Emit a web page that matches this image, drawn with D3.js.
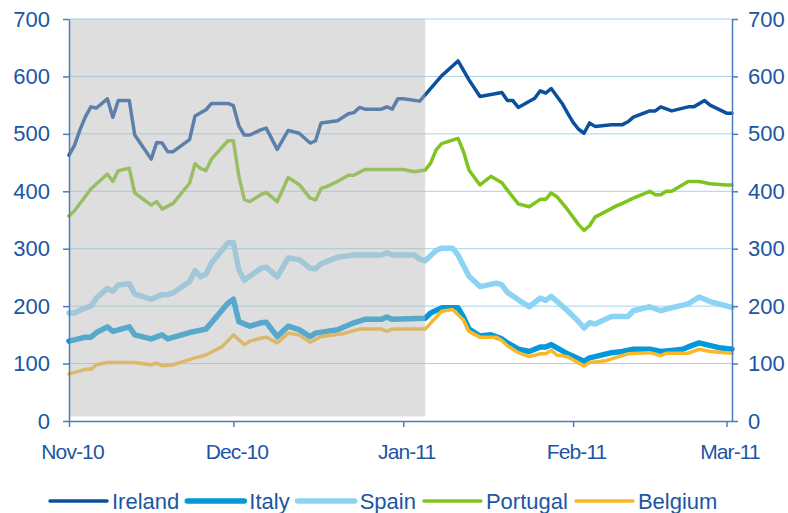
<!DOCTYPE html>
<html>
<head>
<meta charset="utf-8">
<script src="https://cdn.jsdelivr.net/npm/d3@7"></script>
<style>
  body { margin: 0; background: #fff; }
  svg { display: block; font-family: "Liberation Sans", Arial, sans-serif; }
</style>
</head>
<body>
<div id="chart"></div>
<script>
// spreads, bp (date, value)
const ireland = [
  ["2010-11-01",463],["2010-11-02",480],["2010-11-03",507],["2010-11-04",530],["2010-11-05",547],
  ["2010-11-06",545],["2010-11-08",561],["2010-11-09",529],["2010-11-10",558],["2010-11-12",558],
  ["2010-11-13",498],["2010-11-16",456],["2010-11-17",485],["2010-11-18",484],["2010-11-19",469],
  ["2010-11-20",469],["2010-11-23",490],["2010-11-24",531],["2010-11-26",542],["2010-11-27",553],
  ["2010-11-30",553],["2010-12-01",549],["2010-12-02",514],["2010-12-03",498],["2010-12-04",498],
  ["2010-12-06",507],["2010-12-07",510],["2010-12-09",473],["2010-12-11",506],["2010-12-13",501],
  ["2010-12-15",484],["2010-12-16",488],["2010-12-17",519],["2010-12-20",523],["2010-12-22",535],
  ["2010-12-23",537],["2010-12-24",546],["2010-12-25",543],["2010-12-28",543],["2010-12-29",547],
  ["2010-12-30",543],["2010-12-31",561],["2011-01-01",561],["2011-01-04",557],["2011-01-05",568],
  ["2011-01-08",601],["2011-01-11",627],["2011-01-13",594],["2011-01-15",565],["2011-01-19",572],
  ["2011-01-20",558],["2011-01-21",558],["2011-01-22",546],["2011-01-25",562],["2011-01-26",575],
  ["2011-01-27",571],["2011-01-28",579],["2011-01-30",553],["2011-01-31",536],["2011-02-01",520],
  ["2011-02-02",508],["2011-02-03",501],["2011-02-04",519],["2011-02-05",513],["2011-02-08",516],
  ["2011-02-10",516],["2011-02-11",521],["2011-02-12",529],["2011-02-15",540],["2011-02-16",540],
  ["2011-02-17",547],["2011-02-19",540],["2011-02-22",547],["2011-02-23",547],["2011-02-25",558],
  ["2011-02-26",550],["2011-03-01",536],["2011-03-02",536]
]

const italy = [
  ["2010-11-01",139],["2010-11-04",146],["2010-11-05",146],["2010-11-06",154],["2010-11-08",164],
  ["2010-11-09",156],["2010-11-12",164],["2010-11-13",150],["2010-11-16",143],["2010-11-18",150],
  ["2010-11-19",143],["2010-11-23",154],["2010-11-26",160],["2010-11-30",205],["2010-12-01",212],
  ["2010-12-02",173],["2010-12-04",165],["2010-12-06",171],["2010-12-07",172],["2010-12-09",147],
  ["2010-12-11",165],["2010-12-13",159],["2010-12-15",147],["2010-12-16",153],["2010-12-20",159],
  ["2010-12-23",171],["2010-12-25",177],["2010-12-28",177],["2010-12-29",181],["2010-12-30",177],
  ["2011-01-05",179],["2011-01-06",188],["2011-01-08",197],["2011-01-11",197],["2011-01-12",181],
  ["2011-01-13",160],["2011-01-15",148],["2011-01-17",150],["2011-01-19",143],["2011-01-20",136],
  ["2011-01-22",125],["2011-01-24",121],["2011-01-26",129],["2011-01-27",129],["2011-01-28",133],
  ["2011-01-31",117],["2011-02-03",104],["2011-02-04",110],["2011-02-05",112],["2011-02-08",119],
  ["2011-02-10",121],["2011-02-12",125],["2011-02-15",125],["2011-02-17",121],["2011-02-19",123],
  ["2011-02-21",125],["2011-02-22",129],["2011-02-24",136],["2011-02-28",127],["2011-03-02",125]
]

const spain = [
  ["2010-11-01",188],["2010-11-02",188],["2010-11-04",197],["2010-11-05",200],["2010-11-06",214],
  ["2010-11-08",231],["2010-11-09",226],["2010-11-10",237],["2010-11-12",239],["2010-11-13",221],
  ["2010-11-16",212],["2010-11-18",220],["2010-11-19",220],["2010-11-20",223],["2010-11-23",243],
  ["2010-11-24",262],["2010-11-25",251],["2010-11-26",256],["2010-11-27",275],["2010-11-30",310],
  ["2010-12-01",311],["2010-12-02",263],["2010-12-03",245],["2010-12-06",266],["2010-12-07",268],
  ["2010-12-09",251],["2010-12-11",284],["2010-12-13",281],["2010-12-15",266],["2010-12-16",265],
  ["2010-12-17",274],["2010-12-20",285],["2010-12-23",289],["2010-12-28",289],["2010-12-29",293],
  ["2010-12-30",289],["2011-01-03",289],["2011-01-04",282],["2011-01-05",279],["2011-01-07",297],
  ["2011-01-08",301],["2011-01-10",301],["2011-01-11",289],["2011-01-13",252],["2011-01-15",234],
  ["2011-01-18",240],["2011-01-19",237],["2011-01-20",224],["2011-01-22",211],["2011-01-24",199],
  ["2011-01-26",214],["2011-01-27",210],["2011-01-28",217],["2011-01-31",192],["2011-02-02",173],
  ["2011-02-03",162],["2011-02-04",171],["2011-02-05",169],["2011-02-08",182],["2011-02-11",182],
  ["2011-02-12",192],["2011-02-15",199],["2011-02-17",192],["2011-02-18",195],["2011-02-22",204],
  ["2011-02-24",216],["2011-02-26",208],["2011-03-02",198]
]

const portugal = [
  ["2010-11-01",357],["2010-11-02",366],["2010-11-05",404],["2010-11-08",430],["2010-11-09",417],
  ["2010-11-10",436],["2010-11-12",440],["2010-11-13",397],["2010-11-16",376],["2010-11-17",382],
  ["2010-11-18",369],["2010-11-20",379],["2010-11-23",414],["2010-11-24",448],["2010-11-25",440],
  ["2010-11-26",436],["2010-11-27",456],["2010-11-30",488],["2010-12-01",488],["2010-12-02",426],
  ["2010-12-03",386],["2010-12-04",382],["2010-12-06",394],["2010-12-07",398],["2010-12-09",382],
  ["2010-12-11",424],["2010-12-13",412],["2010-12-15",388],["2010-12-16",385],["2010-12-17",405],
  ["2010-12-18",408],["2010-12-20",417],["2010-12-22",428],["2010-12-23",428],["2010-12-25",438],
  ["2011-01-01",438],["2011-01-03",434],["2011-01-05",437],["2011-01-06",449],["2011-01-07",472],
  ["2011-01-08",483],["2011-01-11",492],["2011-01-12",469],["2011-01-13",437],["2011-01-15",411],
  ["2011-01-17",426],["2011-01-19",415],["2011-01-20",402],["2011-01-22",378],["2011-01-24",373],
  ["2011-01-26",386],["2011-01-27",386],["2011-01-28",397],["2011-01-29",391],["2011-01-31",368],
  ["2011-02-01",355],["2011-02-02",342],["2011-02-03",332],["2011-02-04",340],["2011-02-05",355],
  ["2011-02-07",365],["2011-02-09",375],["2011-02-10",379],["2011-02-12",388],["2011-02-15",400],
  ["2011-02-16",394],["2011-02-17",394],["2011-02-18",400],["2011-02-19",400],["2011-02-22",417],
  ["2011-02-24",417],["2011-02-26",413],["2011-03-01",411],["2011-03-02",411]
]

const belgium = [
  ["2010-11-01",82],["2010-11-04",90],["2010-11-05",90],["2010-11-06",98],["2010-11-08",102],
  ["2010-11-13",102],["2010-11-16",98],["2010-11-17",101],["2010-11-18",96],["2010-11-20",98],
  ["2010-11-23",107],["2010-11-24",110],["2010-11-26",115],["2010-11-29",130],["2010-12-01",150],
  ["2010-12-03",133],["2010-12-04",139],["2010-12-06",144],["2010-12-07",146],["2010-12-09",136],
  ["2010-12-11",153],["2010-12-13",150],["2010-12-15",137],["2010-12-17",147],["2010-12-21",152],
  ["2010-12-24",160],["2010-12-28",160],["2010-12-29",156],["2010-12-30",160],["2011-01-05",160],
  ["2011-01-08",191],["2011-01-10",194],["2011-01-12",176],["2011-01-13",156],["2011-01-15",146],
  ["2011-01-18",146],["2011-01-19",140],["2011-01-20",131],["2011-01-22",119],["2011-01-24",112],
  ["2011-01-26",117],["2011-01-27",117],["2011-01-28",123],["2011-01-29",115],["2011-01-31",112],
  ["2011-02-03",96],["2011-02-04",102],["2011-02-07",105],["2011-02-11",117],["2011-02-15",119],
  ["2011-02-17",114],["2011-02-18",118],["2011-02-22",118],["2011-02-24",125],["2011-02-26",121],
  ["2011-03-02",118]
]

const seriesNames = ["Ireland", "Italy", "Spain", "Portugal", "Belgium"]
const seriesData = [ireland, italy, spain, portugal, belgium]
const seriesColors = ["#0b4f9f", "#0099dc", "#8dd3f4", "#7fc31d", "#fbb826"]
const seriesWidths = [3.5, 5.5, 5.5, 3.5, 3.5]

const yTicks = [0, 100, 200, 300, 400, 500, 600, 700]
const xDomain = ["2010-11-01", "2011-03-02"]
const shadedPeriod = ["2010-11-01", "2011-01-05"]

const width = 788, height = 513
const margin = {top: 19, right: 56, bottom: 92, left: 69}
const parse = d3.timeParse("%Y-%m-%d")
const axisBlue = "#4a7dbd"
const textBlue = "#1b56a4"

const svg = d3.select("#chart").append("svg")
    .attr("width", width)
    .attr("height", height)

const x = d3.scaleTime()
    .domain(xDomain.map(parse))
    .range([margin.left, width - margin.right])

const y = d3.scaleLinear()
    .domain([0, 700])
    .range([height - margin.bottom, margin.top])

// grid
svg.append("g")
    .selectAll("line")
    .data(yTicks.slice(1))
    .enter().append("line")
    .attr("x1", margin.left).attr("x2", width - margin.right)
    .attr("y1", d => y(d)).attr("y2", d => y(d))
    .attr("stroke", "#a6d2ea")
    .attr("stroke-width", 1)

// lines
const line = d3.line()
    .x(d => x(parse(d[0])))
    .y(d => y(d[1]))

seriesData.forEach((s, i) => {
    svg.append("path")
        .datum(s)
        .attr("d", line)
        .attr("fill", "none")
        .attr("stroke", seriesColors[i])
        .attr("stroke-width", seriesWidths[i])
        .attr("stroke-linejoin", "round")
        .attr("stroke-linecap", "round")
})

// shaded period, laid over the lines so they look faded
svg.append("rect")
    .attr("x", x(parse(shadedPeriod[0])) + 1)
    .attr("y", y(700))
    .attr("width", x(parse(shadedPeriod[1])) - x(parse(shadedPeriod[0])) - 1)
    .attr("height", y(8) - y(700))
    .attr("fill", "rgb(185,185,185)")
    .attr("fill-opacity", 0.47)

// axes
const styleAxis = (g) => {
    g.selectAll(".domain").attr("stroke", axisBlue).attr("stroke-width", 1.5)
    g.selectAll(".tick line").attr("stroke", axisBlue).attr("stroke-width", 1.5)
    g.selectAll("text")
        .attr("fill", textBlue)
        .style("font-size", "22px")
        .style("font-family", '"Liberation Sans", Arial, sans-serif')
}

svg.append("g")
    .attr("transform", `translate(${margin.left},0)`)
    .call(d3.axisLeft(y).tickValues(yTicks).tickSize(6).tickSizeOuter(0).tickPadding(13))
    .call(styleAxis)

svg.append("g")
    .attr("transform", `translate(${width - margin.right},0)`)
    .call(d3.axisRight(y).tickValues(yTicks).tickSize(6).tickSizeOuter(0).tickPadding(10))
    .call(styleAxis)

svg.append("g")
    .attr("transform", `translate(0,${height - margin.bottom})`)
    .call(d3.axisBottom(x).ticks(d3.timeMonth.every(1)).tickFormat(d3.timeFormat("%b-%y"))
        .tickSize(6).tickSizeOuter(0).tickPadding(17))
    .call(styleAxis)
    .call(g => g.selectAll("text")
        .style("font-size", "21px")
        .style("letter-spacing", "-0.9px")
        .attr("dx", 3))

// legend
const legend = svg.append("g").attr("transform", "translate(50,501)")
let lx = 0
seriesNames.forEach((name, i) => {
    legend.append("line")
        .attr("x1", lx).attr("x2", lx + 57)
        .attr("y1", 0).attr("y2", 0)
        .attr("stroke", seriesColors[i])
        .attr("stroke-width", seriesWidths[i])
        .attr("stroke-linecap", "round")
    const t = legend.append("text")
        .attr("x", lx + 62)
        .attr("y", 8)
        .attr("fill", textBlue)
        .style("font-size", "22px")
        .text(name)
    lx += 62 + t.node().getComputedTextLength() + 8
})
</script>
</body>
</html>
